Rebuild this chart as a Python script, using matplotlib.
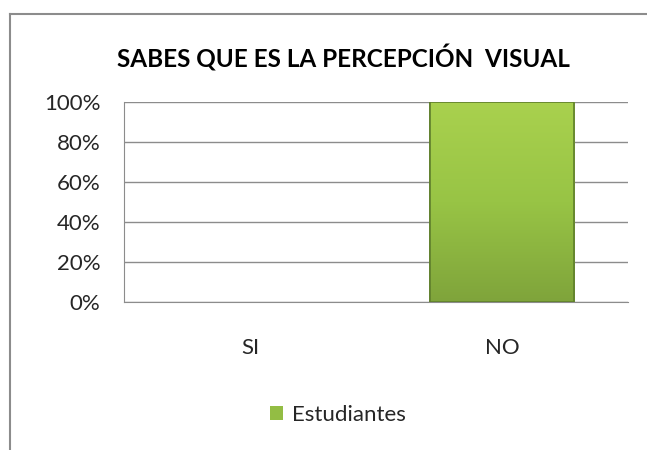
import numpy as np
import matplotlib
matplotlib.use('Agg')
import matplotlib.pyplot as plt
from matplotlib.patches import Rectangle
from matplotlib.lines import Line2D
from matplotlib.ticker import FuncFormatter

plt.rcParams['font.family'] = ['Lato', 'DejaVu Sans']

categorias = ['SI', 'NO']
valores = [0, 1.0]
serie = 'Estudiantes'
titulo = 'SABES QUE ES LA PERCEPCIÓN  VISUAL'

fig = plt.figure(figsize=(6.47, 4.5), dpi=100)
# marco del gráfico (recortado a la derecha y abajo)
x0, y0 = 9.5 / 647, 1 - 13.5 / 450
fig.lines.append(Line2D([x0, x0], [0, y0], transform=fig.transFigure,
                        color='#8c8c8c', linewidth=1.5))
fig.lines.append(Line2D([x0, 1], [y0, y0], transform=fig.transFigure,
                        color='#8c8c8c', linewidth=1.5))

ax = fig.add_axes([124 / 647, 1 - 302 / 450, 504 / 647, 200 / 450])
x = np.arange(len(categorias))
bordes = ['#5f7f2c' if v > 0 else 'none' for v in valores]
barras = ax.bar(x, valores, width=0.575, color='#93bd44', edgecolor=bordes,
                linewidth=1.2, label=serie, zorder=3)

# degradado del relleno
grad = np.linspace(0, 1, 256).reshape(-1, 1)
cmap = matplotlib.colors.LinearSegmentedColormap.from_list(
    'verde', ['#a9d14e', '#98c445', '#7fa43b'])
for b in barras:
    if b.get_height() <= 0:
        continue
    im = ax.imshow(grad, cmap=cmap, aspect='auto', zorder=3.5, origin='upper',
                   extent=[b.get_x(), b.get_x() + b.get_width(), 0, b.get_height()])
    im.set_clip_path(b)
    ax.add_patch(Rectangle((b.get_x(), 0), b.get_width(), b.get_height(),
                           fill=False, edgecolor='#5f7f2c', linewidth=1.2, zorder=4))

ax.set_xlim(-0.5, 1.5)
ax.set_ylim(0, 1.0)
ax.set_yticks(np.arange(0, 1.01, 0.2))
ax.yaxis.set_major_formatter(FuncFormatter(lambda v, p: '{:.0f}%'.format(v * 100)))
ax.set_xticks(x)
ax.set_xticklabels(categorias)
ax.grid(axis='y', color='#8c8c8c', linewidth=1, zorder=0)
ax.tick_params(length=0, labelsize=16, colors='#262626')
ax.tick_params(axis='y', pad=17)
ax.tick_params(axis='x', pad=26)
for s in ['top', 'right']:
    ax.spines[s].set_visible(False)
for s in ['left', 'bottom']:
    ax.spines[s].set_color('#8c8c8c')

fig.text(343 / 647, 1 - 58 / 450, titulo, ha='center', va='center',
         fontsize=17.5, fontweight='bold', color='#000000')

leg = fig.legend(handles=[barras], labels=[serie], loc='center',
                 bbox_to_anchor=(338 / 647, 1 - 415 / 450), frameon=False,
                 fontsize=16, handlelength=0.6, handleheight=0.6,
                 handletextpad=0.4)
for t in leg.get_texts():
    t.set_color('#262626')

fig.savefig('out.png', dpi=100, facecolor='white')
